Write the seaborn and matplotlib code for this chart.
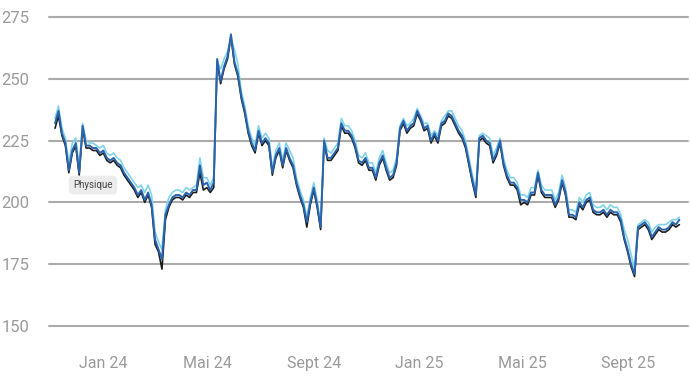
import matplotlib
matplotlib.use("Agg")
import matplotlib.pyplot as plt
import seaborn as sns
import pandas as pd

start_date = "2023-11-06"
step = "4D"

blue = [
    232, 237, 228, 224, 213, 221, 224, 212, 231, 223,
    223, 222, 222, 220, 221, 218, 217, 218, 216, 215,
    212, 210, 208, 206, 203, 205, 201, 204, 199, 185,
    181, 177, 195, 199, 202, 203, 203, 202, 204, 203,
    205, 205, 215, 207, 208, 205, 208, 258, 249, 255,
    259, 268, 257, 252, 243, 237, 229, 224, 221, 229,
    224, 226, 224, 212, 219, 222, 215, 222, 218, 215,
    208, 203, 199, 192, 200, 206, 199, 190, 225, 218,
    218, 220, 222, 232, 229, 229, 227, 223, 217, 216,
    218, 214, 214, 210, 216, 219, 214, 210, 211, 216,
    230, 233, 229, 231, 232, 237, 234, 230, 231, 225,
    228, 225, 232, 233, 236, 235, 232, 229, 227, 223,
    216, 209, 203, 226, 227, 225, 224, 217, 220, 225,
    216, 211, 208, 208, 206, 201, 201, 200, 204, 204,
    212, 205, 203, 203, 203, 199, 202, 209, 204, 195,
    195, 194, 200, 198, 201, 202, 197, 196, 196, 197,
    195, 197, 196, 196, 193, 186, 181, 175, 171, 190,
    191, 192, 190, 186, 188, 190, 189, 189, 190, 192,
    191, 193,
]

cyan = [
    234, 239, 230, 226, 216, 224, 226, 214, 232, 225,
    224, 224, 223, 222, 223, 220, 219, 220, 218, 217,
    214, 212, 210, 208, 206, 207, 204, 207, 203, 188,
    184, 181, 197, 202, 204, 205, 205, 204, 206, 205,
    206, 207, 218, 210, 210, 207, 210, 257, 254, 258,
    261, 266, 262, 256, 245, 239, 231, 226, 223, 231,
    226, 228, 226, 214, 221, 224, 217, 224, 221, 218,
    210, 205, 201, 194, 202, 208, 201, 191, 226, 221,
    220, 222, 224, 234, 231, 231, 229, 225, 219, 218,
    220, 216, 216, 212, 218, 221, 216, 212, 213, 218,
    231, 234, 231, 232, 234, 238, 235, 232, 232, 227,
    229, 227, 233, 235, 237, 237, 234, 231, 229, 225,
    218, 211, 205, 227, 228, 227, 226, 219, 222, 226,
    218, 213, 210, 210, 208, 203, 203, 202, 206, 206,
    213, 207, 205, 205, 205, 201, 204, 211, 206, 197,
    197, 196, 202, 200, 203, 204, 199, 198, 198, 199,
    197, 199, 198, 198, 195, 189, 185, 179, 173, 191,
    192, 193, 192, 188, 190, 191, 191, 191, 192, 193,
    193, 194,
]

black = [
    230, 235, 227, 223, 212, 220, 223, 211, 230, 222,
    222, 221, 221, 219, 220, 217, 216, 217, 215, 214,
    211, 209, 207, 205, 202, 204, 200, 203, 198, 183,
    180, 173, 193, 198, 201, 202, 202, 201, 203, 202,
    204, 204, 212, 205, 206, 204, 206, 257, 248, 254,
    258, 267, 256, 251, 242, 236, 228, 223, 220, 228,
    223, 225, 223, 211, 218, 221, 214, 221, 217, 214,
    207, 202, 198, 190, 199, 205, 198, 189, 224, 217,
    217, 219, 221, 231, 228, 228, 226, 222, 216, 215,
    217, 213, 213, 209, 215, 218, 213, 209, 210, 215,
    229, 232, 228, 230, 231, 236, 233, 229, 230, 224,
    227, 224, 231, 232, 235, 234, 231, 228, 226, 222,
    215, 208, 202, 225, 226, 224, 223, 216, 219, 224,
    215, 210, 207, 207, 205, 199, 200, 199, 203, 203,
    211, 204, 202, 202, 202, 198, 201, 208, 203, 194,
    194, 193, 199, 197, 200, 201, 196, 195, 195, 196,
    194, 196, 195, 195, 192, 185, 180, 174, 170, 189,
    190, 191, 189, 185, 187, 189, 188, 188, 189, 191,
    190, 191,
]

tick_dates = ["2024-01-01", "2024-05-01", "2024-09-01",
              "2025-01-01", "2025-05-01", "2025-09-01"]
tick_labels = ["Jan 24", "Mai 24", "Sept 24", "Jan 25", "Mai 25", "Sept 25"]
y_ticks = [150, 175, 200, 225, 250, 275]


def main():
    dates = pd.date_range(start_date, periods=len(blue), freq=step)
    df = pd.DataFrame({"date": dates, "blue": blue, "cyan": cyan, "black": black})

    sns.set_style("white")
    plt.rcParams["font.family"] = ["Roboto", "DejaVu Sans"]

    fig = plt.figure(figsize=(6.9, 3.88), dpi=100)
    ax = fig.add_axes([49 / 690, 1 - 326 / 388, 639 / 690, 309 / 388])

    # black underneath, light blue above it, dark blue on top
    sns.lineplot(data=df, x="date", y="black", color="#1c1c1c", linewidth=1.2, ax=ax)
    sns.lineplot(data=df, x="date", y="cyan", color="#80d4ea", linewidth=1.2, ax=ax)
    sns.lineplot(data=df, x="date", y="blue", color="#2a63ad", linewidth=1.4, ax=ax)

    ax.set_ylim(150, 275)
    ax.set_xlim(pd.Timestamp("2023-10-30"), pd.Timestamp("2025-11-09"))
    ax.set_yticks(y_ticks)
    ax.set_xticks(pd.to_datetime(tick_dates))
    ax.set_xticklabels(tick_labels)
    ax.set_xlabel("")
    ax.set_ylabel("")

    for v in y_ticks:
        ax.axhline(v, color="#ababab", linewidth=1.5, zorder=0, clip_on=False)

    for s in ax.spines.values():
        s.set_visible(False)
    ax.tick_params(axis="y", length=0, pad=14, labelsize=12, labelcolor="#9a9a9a")
    ax.tick_params(axis="x", length=7.5, width=1, color="#b5b5b5", pad=14,
                   labelsize=11.5, labelcolor="#9a9a9a", direction="out")

    ax.text(pd.Timestamp("2023-12-20"), 207, "Physique", fontsize=7, color="#444444",
            ha="center", va="center",
            bbox=dict(boxstyle="round,pad=0.45", facecolor="#ececec", edgecolor="none"))

    fig.savefig("out.png", dpi=100)


if __name__ == "__main__":
    main()
